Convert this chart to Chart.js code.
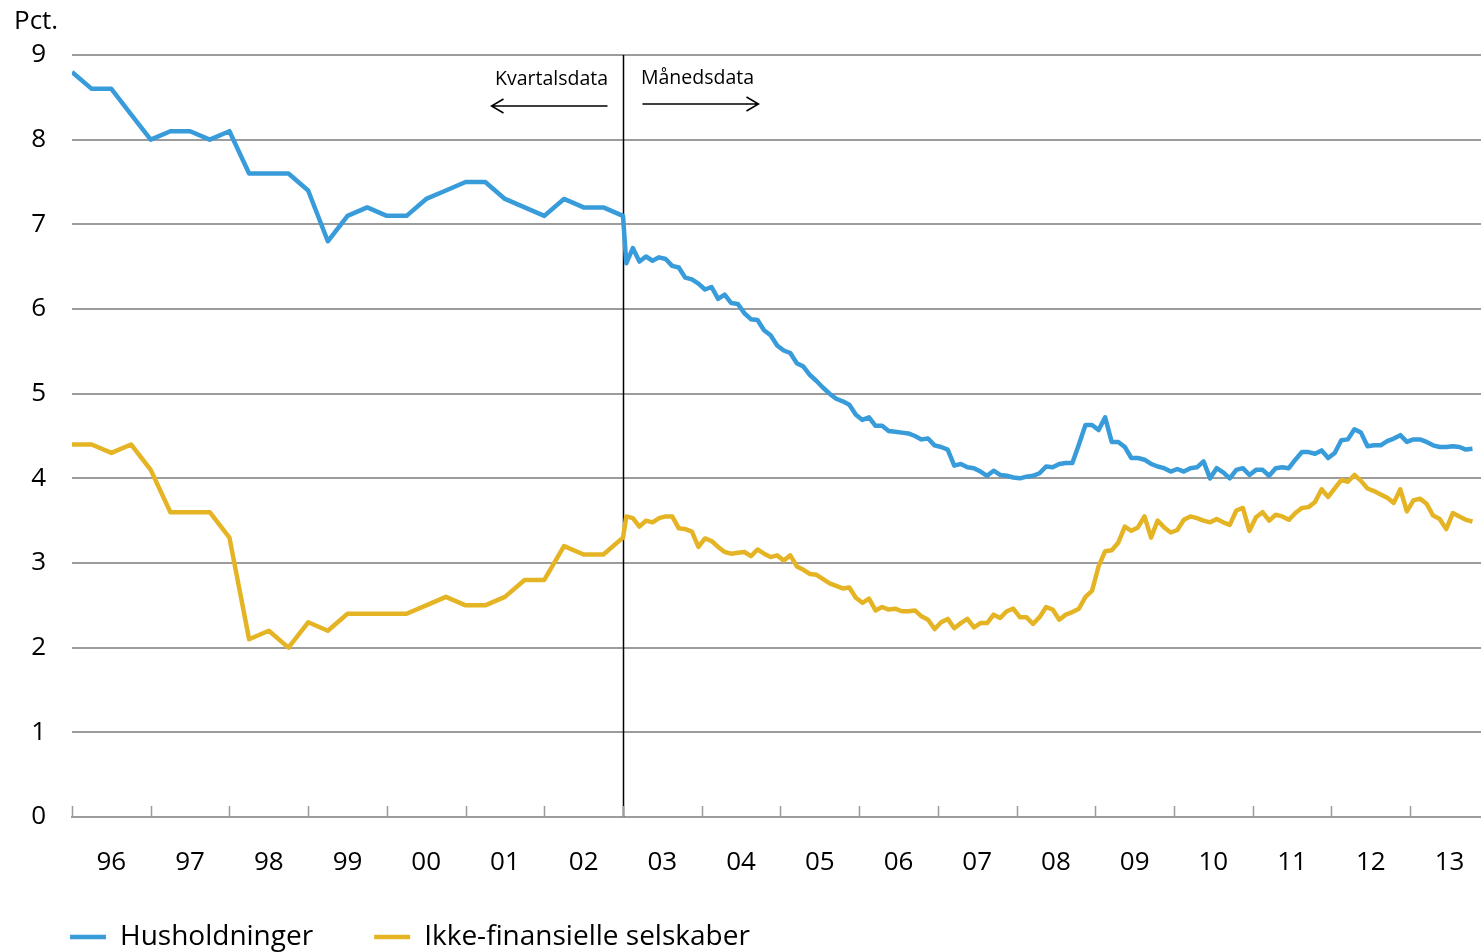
<!DOCTYPE html>
<html>
<head>
<meta charset="utf-8">
<script src="https://cdn.jsdelivr.net/npm/chart.js@4.4.1/dist/chart.umd.min.js"></script>
<style>
  html, body { margin: 0; padding: 0; background: #ffffff; }
  #wrap { width: 1481px; height: 952px; }
</style>
</head>
<body>
<div id="wrap"><canvas id="chart" width="1481" height="952"></canvas></div>
<script>
// ---------------- Data ----------------
const firstYear = 1996;
const yearTickLabels = ['96','97','98','99','00','01','02','03','04','05','06','07','08','09','10','11','12','13'];
const yTickValues = [0, 1, 2, 3, 4, 5, 6, 7, 8, 9];
const seriesNames = ['Husholdninger', 'Ikke-finansielle selskaber'];
const quarterlyStart = 1996;   // quarterly data 1996 - 2003
const monthlyStart = 2003;     // monthly data from Jan 2003
const breakYear = 2003;
const axisMin = 1996;
const axisMax = 2013.9;

const husholdningerKvartal = [8.8, 8.6, 8.6, 8.3, 8.0, 8.1, 8.1, 8.0, 8.1, 7.6, 7.6, 7.6, 7.4, 6.8, 7.1,
  7.2, 7.1, 7.1, 7.3, 7.4, 7.5, 7.5, 7.3, 7.2, 7.1, 7.3, 7.2, 7.2, 7.1];
const selskaberKvartal = [4.4, 4.4, 4.3, 4.4, 4.1, 3.6, 3.6, 3.6, 3.3, 2.1, 2.2, 2.0, 2.3, 2.2, 2.4,
  2.4, 2.4, 2.4, 2.5, 2.6, 2.5, 2.5, 2.6, 2.8, 2.8, 3.2, 3.1, 3.1, 3.3];

const husholdningerMaaned = [
  6.54, 6.72, 6.56, 6.62, 6.57, 6.61, 6.59, 6.51, 6.49, 6.37, 6.35, 6.30,
  6.23, 6.26, 6.12, 6.17, 6.07, 6.06, 5.95, 5.88, 5.87, 5.75, 5.69, 5.57,
  5.51, 5.48, 5.36, 5.32, 5.22, 5.15, 5.07, 5.00, 4.94, 4.91, 4.87, 4.75,
  4.69, 4.72, 4.62, 4.62, 4.56, 4.55, 4.54, 4.53, 4.50, 4.46, 4.47, 4.39,
  4.37, 4.34, 4.15, 4.17, 4.13, 4.12, 4.08, 4.03, 4.09, 4.04, 4.03, 4.01,
  4.00, 4.02, 4.03, 4.06, 4.14, 4.13, 4.17, 4.18, 4.18, 4.40, 4.63, 4.63,
  4.57, 4.72, 4.43, 4.43, 4.37, 4.24, 4.24, 4.22, 4.17, 4.14, 4.12, 4.08,
  4.11, 4.08, 4.12, 4.13, 4.20, 4.00, 4.12, 4.07, 4.00, 4.10, 4.12, 4.04,
  4.10, 4.10, 4.03, 4.12, 4.13, 4.12, 4.22, 4.31, 4.31, 4.29, 4.33, 4.24,
  4.30, 4.45, 4.46, 4.58, 4.54, 4.38, 4.39, 4.39, 4.44, 4.47, 4.51, 4.43,
  4.46, 4.46, 4.43, 4.39, 4.37, 4.37, 4.38, 4.37, 4.34, 4.35
];
const selskaberMaaned = [
  3.55, 3.53, 3.43, 3.50, 3.48, 3.53, 3.55, 3.55, 3.41, 3.40, 3.37, 3.19,
  3.29, 3.26, 3.19, 3.13, 3.11, 3.12, 3.13, 3.08, 3.16, 3.11, 3.07, 3.09,
  3.03, 3.09, 2.96, 2.92, 2.87, 2.86, 2.81, 2.76, 2.73, 2.70, 2.71, 2.59,
  2.53, 2.58, 2.44, 2.48, 2.45, 2.46, 2.43, 2.43, 2.44, 2.37, 2.33, 2.22,
  2.30, 2.34, 2.23, 2.29, 2.34, 2.24, 2.29, 2.29, 2.39, 2.35, 2.43, 2.46,
  2.36, 2.36, 2.28, 2.36, 2.48, 2.45, 2.33, 2.39, 2.42, 2.46, 2.60, 2.67,
  2.96, 3.14, 3.15, 3.24, 3.43, 3.38, 3.42, 3.55, 3.30, 3.50, 3.42, 3.36,
  3.39, 3.51, 3.55, 3.53, 3.50, 3.48, 3.52, 3.48, 3.45, 3.62, 3.65, 3.38,
  3.54, 3.60, 3.50, 3.57, 3.55, 3.51, 3.59, 3.65, 3.66, 3.72, 3.87, 3.78,
  3.88, 3.98, 3.96, 4.04, 3.97, 3.88, 3.85, 3.81, 3.77, 3.71, 3.87, 3.61,
  3.74, 3.76, 3.70, 3.56, 3.52, 3.40, 3.59, 3.55, 3.51, 3.49
];

// ---------------- Build points (time positions of each observation) ----------------
function buildSeries(quarterly, monthly) {
  const pts = quarterly.map((v, i) => ({ x: quarterlyStart + i / 4, y: v }));
  monthly.forEach((v, k) => pts.push({ x: monthlyStart + (k + 0.5) / 12, y: v }));
  return pts;
}

const FONT = '"Open Sans", "Noto Sans", sans-serif';
const BLUE = '#389BDA';
const YELLOW = '#E5B424';
const GRID = '#9c9c9c';

const overlay = {
  id: 'overlay',
  beforeDatasetsDraw(chart) {
    const { ctx, chartArea, scales } = chart;
    const bx = Math.round(scales.x.getPixelForValue(breakYear)) + 0.5;
    ctx.save();
    ctx.strokeStyle = '#000';
    ctx.lineWidth = 1.5;
    ctx.beginPath();
    ctx.moveTo(bx, chartArea.top);
    ctx.lineTo(bx, chartArea.bottom);
    ctx.stroke();

    const t = chartArea.top;
    ctx.fillStyle = '#000';
    ctx.font = '19.5px ' + FONT;
    ctx.textAlign = 'center';
    ctx.textBaseline = 'alphabetic';
    ctx.fillText('Kvartalsdata', bx - 72, t + 30);
    ctx.fillText('Månedsdata', bx + 74, t + 29);

    ctx.lineWidth = 1.5;
    // left arrow
    const ly = t + 51;
    ctx.beginPath();
    ctx.moveTo(bx - 16, ly); ctx.lineTo(bx - 132, ly);
    ctx.moveTo(bx - 120, ly - 7); ctx.lineTo(bx - 132, ly); ctx.lineTo(bx - 120, ly + 7);
    ctx.stroke();
    // right arrow
    const ry = t + 49;
    ctx.beginPath();
    ctx.moveTo(bx + 19, ry); ctx.lineTo(bx + 135, ry);
    ctx.moveTo(bx + 123, ry - 7); ctx.lineTo(bx + 135, ry); ctx.lineTo(bx + 123, ry + 7);
    ctx.stroke();
    ctx.restore();
  },
  afterDraw(chart) {
    const { ctx, chartArea, scales } = chart;
    ctx.save();
    ctx.strokeStyle = GRID;
    ctx.lineWidth = 1.5;
    ctx.beginPath();
    for (let i = 0; i < yearTickLabels.length; i++) {
      const px = Math.round(scales.x.getPixelForValue(firstYear + i)) + 0.5;
      ctx.moveTo(px, chartArea.bottom - 11);
      ctx.lineTo(px, chartArea.bottom);
    }
    ctx.stroke();
    ctx.fillStyle = '#000';
    ctx.font = '26px ' + FONT;
    ctx.textAlign = 'left';
    ctx.textBaseline = 'alphabetic';
    ctx.fillText('Pct.', 14, 29);
    ctx.restore();
  }
};

new Chart(document.getElementById('chart'), {
  type: 'line',
  data: {
    datasets: [
      {
        label: seriesNames[0],
        data: buildSeries(husholdningerKvartal, husholdningerMaaned),
        borderColor: BLUE,
        backgroundColor: BLUE,
        borderWidth: 4.5,
        pointRadius: 0,
        tension: 0,
        borderJoinStyle: 'round'
      },
      {
        label: seriesNames[1],
        data: buildSeries(selskaberKvartal, selskaberMaaned),
        borderColor: YELLOW,
        backgroundColor: YELLOW,
        borderWidth: 4.5,
        pointRadius: 0,
        tension: 0,
        borderJoinStyle: 'round'
      }
    ]
  },
  options: {
    responsive: false,
    animation: false,
    devicePixelRatio: 1,
    layout: { padding: { top: 55, left: 9, right: 0, bottom: 0 } },
    plugins: {
      title: { display: false },
      tooltip: { enabled: false },
      legend: {
        display: true,
        position: 'bottom',
        align: 'start',
        maxHeight: 90,
        labels: {
          usePointStyle: true,
          pointStyle: 'line',
          pointStyleWidth: 36,
          padding: 61,
          color: '#000',
          font: { family: FONT, size: 28 }
        }
      }
    },
    scales: {
      x: {
        type: 'linear',
        min: axisMin,
        max: axisMax,
        afterBuildTicks: (scale) => {
          scale.ticks = yearTickLabels.map((_, i) => ({ value: firstYear + i + 0.5 }));
        },
        afterFit: (scale) => {
          scale.height = 45;
          scale.paddingLeft = 0;
          scale.paddingRight = 0;
        },
        grid: { display: false, drawTicks: false },
        border: { display: true, color: GRID, width: 2 },
        ticks: {
          autoSkip: false,
          maxRotation: 0,
          mirror: true,
          padding: -61,
          color: '#000',
          font: { family: FONT, size: 26 },
          callback: (v, i) => yearTickLabels[i]
        }
      },
      y: {
        min: 0,
        max: 9,
        afterBuildTicks: (scale) => {
          scale.ticks = yTickValues.map(v => ({ value: v }));
        },
        afterFit: (scale) => { scale.width = 63; },
        grid: { color: GRID, lineWidth: 2, drawTicks: false },
        border: { display: false },
        ticks: {
          padding: 26,
          color: '#000',
          font: { family: FONT, size: 26 }
        }
      }
    }
  },
  plugins: [overlay]
});
</script>
</body>
</html>
